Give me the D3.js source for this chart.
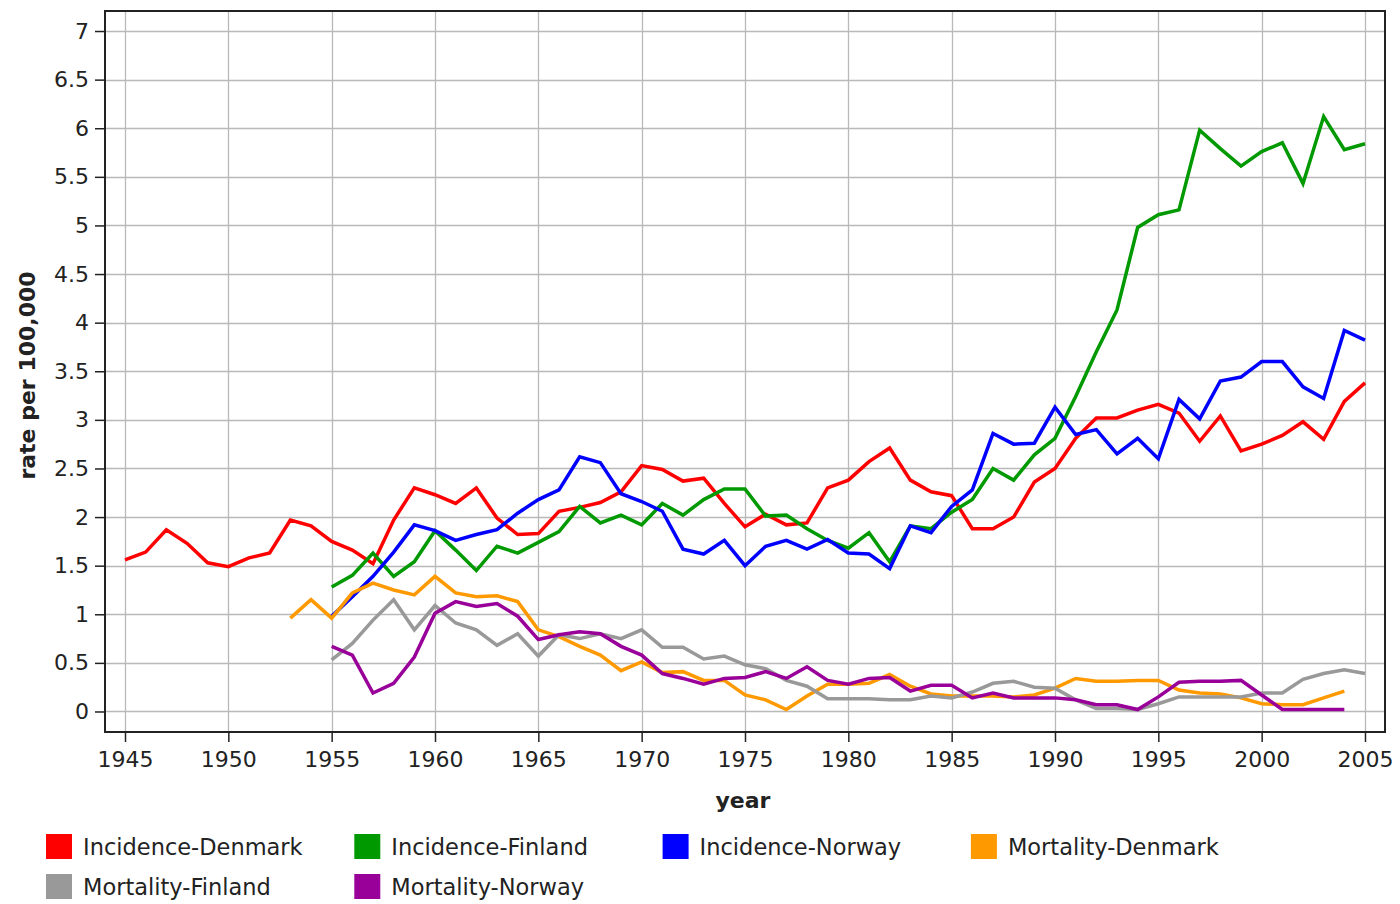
<!DOCTYPE html>
<html>
<head>
<meta charset="utf-8">
<script src="https://cdn.jsdelivr.net/npm/d3@7"></script>
<style>
  html, body { margin: 0; padding: 0; background: #fff; }
  svg { display: block; font-family: "DejaVu Sans", Verdana, sans-serif; }
</style>
</head>
<body>
<svg id="chart" width="1400" height="904"></svg>
<script>
// ---- data ----
const seriesNames = ["Incidence-Denmark", "Incidence-Finland", "Incidence-Norway",
                     "Mortality-Denmark", "Mortality-Finland", "Mortality-Norway"];
const seriesColors = ["#ff0000", "#009900", "#0000ff", "#ff9900", "#999999", "#990099"];
const seriesStartYears = [1945, 1955, 1955, 1953, 1955, 1955];

const incidenceDenmark = [1.56, 1.64, 1.87, 1.73, 1.53, 1.49, 1.58, 1.63, 1.97, 1.91,
  1.75, 1.66, 1.52, 1.97, 2.30, 2.23, 2.14, 2.30, 1.99, 1.82,
  1.83, 2.06, 2.10, 2.15, 2.26, 2.53, 2.49, 2.37, 2.40, 2.14,
  1.90, 2.03, 1.92, 1.94, 2.30, 2.38, 2.57, 2.71, 2.38, 2.26,
  2.22, 1.88, 1.88, 2.00, 2.36, 2.50, 2.81, 3.02, 3.02, 3.10,
  3.16, 3.07, 2.78, 3.04, 2.68, 2.75, 2.84, 2.98, 2.80, 3.19, 3.38];
const incidenceFinland = [1.28, 1.40, 1.63, 1.39, 1.54, 1.86, 1.66, 1.45, 1.70, 1.63,
  1.74, 1.85, 2.11, 1.94, 2.02, 1.92, 2.14, 2.02, 2.18, 2.29,
  2.29, 2.01, 2.02, 1.88, 1.76, 1.68, 1.84, 1.54, 1.91, 1.88,
  2.05, 2.18, 2.50, 2.38, 2.64, 2.81, 3.24, 3.70, 4.13, 4.98,
  5.11, 5.16, 5.98, 5.79, 5.61, 5.76, 5.85, 5.43, 6.12, 5.78, 5.84];
const incidenceNorway = [0.98, 1.18, 1.39, 1.64, 1.92, 1.86, 1.76, 1.82, 1.87, 2.04,
  2.18, 2.28, 2.62, 2.56, 2.24, 2.16, 2.06, 1.67, 1.62, 1.76,
  1.50, 1.70, 1.76, 1.67, 1.77, 1.63, 1.62, 1.47, 1.91, 1.84,
  2.11, 2.28, 2.86, 2.75, 2.76, 3.13, 2.85, 2.90, 2.65, 2.81,
  2.60, 3.21, 3.01, 3.40, 3.44, 3.60, 3.60, 3.34, 3.22, 3.92, 3.82];
const mortalityDenmark = [0.96, 1.15,
  0.96, 1.22, 1.32, 1.25, 1.20, 1.39, 1.22, 1.18, 1.19, 1.13,
  0.84, 0.77, 0.67, 0.58, 0.42, 0.51, 0.40, 0.41, 0.32, 0.32,
  0.17, 0.12, 0.02, 0.16, 0.28, 0.28, 0.29, 0.38, 0.26, 0.18,
  0.16, 0.16, 0.16, 0.15, 0.17, 0.24, 0.34, 0.31, 0.31, 0.32,
  0.32, 0.22, 0.19, 0.18, 0.14, 0.08, 0.07, 0.07, 0.14, 0.21];
const mortalityFinland = [0.53, 0.70, 0.94, 1.15, 0.84, 1.09, 0.91, 0.84, 0.68, 0.80,
  0.57, 0.79, 0.75, 0.80, 0.75, 0.84, 0.66, 0.66, 0.54, 0.57,
  0.48, 0.44, 0.32, 0.26, 0.13, 0.13, 0.13, 0.12, 0.12, 0.16,
  0.14, 0.20, 0.29, 0.31, 0.25, 0.24, 0.12, 0.03, 0.03, 0.02,
  0.08, 0.15, 0.15, 0.15, 0.15, 0.19, 0.19, 0.33, 0.39, 0.43, 0.39];
const mortalityNorway = [0.67, 0.58, 0.19, 0.29, 0.56, 1.01, 1.13, 1.08, 1.11, 0.98,
  0.74, 0.79, 0.82, 0.80, 0.67, 0.58, 0.39, 0.34, 0.28, 0.34,
  0.35, 0.41, 0.34, 0.46, 0.32, 0.28, 0.34, 0.35, 0.21, 0.27,
  0.27, 0.14, 0.19, 0.14, 0.14, 0.14, 0.12, 0.07, 0.07, 0.02,
  0.15, 0.30, 0.31, 0.31, 0.32, 0.17, 0.02, 0.02, 0.02, 0.02];

const xTickValues = [1945, 1950, 1955, 1960, 1965, 1970, 1975, 1980, 1985, 1990, 1995, 2000, 2005];
const yTickValues = [0, 0.5, 1, 1.5, 2, 2.5, 3, 3.5, 4, 4.5, 5, 5.5, 6, 6.5, 7];
const xTitle = "year";
const yTitle = "rate per 100,000";

const seriesValues = [incidenceDenmark, incidenceFinland, incidenceNorway,
                      mortalityDenmark, mortalityFinland, mortalityNorway];

// ---- layout ----
const plot = { left: 105, right: 1385, top: 11, bottom: 732 };
const svg = d3.select("#chart");

const x = d3.scaleLinear().domain([1944.032, 2005.968]).range([plot.left, plot.right]);
const y = d3.scaleLinear().domain([-0.211, 7.206]).range([plot.bottom, plot.top]);

// background
svg.append("rect").attr("x", plot.left).attr("y", plot.top)
  .attr("width", plot.right - plot.left).attr("height", plot.bottom - plot.top)
  .attr("fill", "#ffffff");

// gridlines
const grid = svg.append("g").attr("stroke", "#b9b9b9").attr("stroke-width", 1.3);
grid.selectAll("line.v").data(xTickValues).join("line")
  .attr("x1", d => Math.round(x(d)) + 0.5).attr("x2", d => Math.round(x(d)) + 0.5)
  .attr("y1", plot.top).attr("y2", plot.bottom);
grid.selectAll("line.h").data(yTickValues).join("line")
  .attr("y1", d => Math.round(y(d)) + 0.5).attr("y2", d => Math.round(y(d)) + 0.5)
  .attr("x1", plot.left).attr("x2", plot.right);

// axes
const xAxis = d3.axisBottom(x).tickValues(xTickValues).tickFormat(d3.format("d"))
  .tickSize(10).tickSizeOuter(0).tickPadding(9);
const yAxis = d3.axisLeft(y).tickValues(yTickValues).tickFormat(d => String(d))
  .tickSize(10).tickSizeOuter(0).tickPadding(6);

const gx = svg.append("g").attr("transform", `translate(0,${plot.bottom})`).call(xAxis);
const gy = svg.append("g").attr("transform", `translate(${plot.left},0)`).call(yAxis);
[gx, gy].forEach(g => {
  g.select(".domain").remove();
  g.selectAll(".tick line").attr("stroke", "#222").attr("stroke-width", 1.5);
  g.selectAll(".tick text").attr("fill", "#222").style("font-size", "22px")
    .style("font-family", "'DejaVu Sans', Verdana, sans-serif");
});

// lines
const line = d3.line().x(d => x(d.year)).y(d => y(d.value));
const clip = svg.append("clipPath").attr("id", "plotclip").append("rect")
  .attr("x", plot.left).attr("y", plot.top)
  .attr("width", plot.right - plot.left).attr("height", plot.bottom - plot.top);
const linesG = svg.append("g").attr("clip-path", "url(#plotclip)");
seriesNames.forEach((name, i) => {
  const pts = seriesValues[i].map((v, k) => ({ year: seriesStartYears[i] + k, value: v }));
  linesG.append("path").datum(pts)
    .attr("d", line)
    .attr("fill", "none")
    .attr("stroke", seriesColors[i])
    .attr("stroke-width", 3.5)
    .attr("stroke-linejoin", "miter")
    .attr("stroke-linecap", "butt");
});

// frame
svg.append("rect").attr("x", plot.left).attr("y", plot.top)
  .attr("width", plot.right - plot.left).attr("height", plot.bottom - plot.top)
  .attr("fill", "none").attr("stroke", "#222").attr("stroke-width", 2);

// axis titles
svg.append("text").attr("x", (plot.left + plot.right) / 2 - 2).attr("y", 808)
  .attr("text-anchor", "middle").attr("font-weight", "bold")
  .style("font-size", "22px").attr("fill", "#222").text(xTitle);
svg.append("text").attr("transform", `translate(35,${(plot.top + plot.bottom) / 2 + 4}) rotate(-90)`)
  .attr("text-anchor", "middle").attr("font-weight", "bold")
  .style("font-size", "22px").attr("fill", "#222").text(yTitle);

// legend
const legendCols = 4;
const legend = svg.append("g");
seriesNames.forEach((name, i) => {
  const col = i % legendCols, row = Math.floor(i / legendCols);
  const lx = 46 + col * 308.3, ly = 834 + row * 40;
  legend.append("rect").attr("x", lx).attr("y", ly).attr("width", 26).attr("height", 25)
    .attr("fill", seriesColors[i]);
  legend.append("text").attr("x", lx + 37).attr("y", ly + 21)
    .style("font-size", "22.5px").attr("fill", "#222").text(name);
});
</script>
</body>
</html>
